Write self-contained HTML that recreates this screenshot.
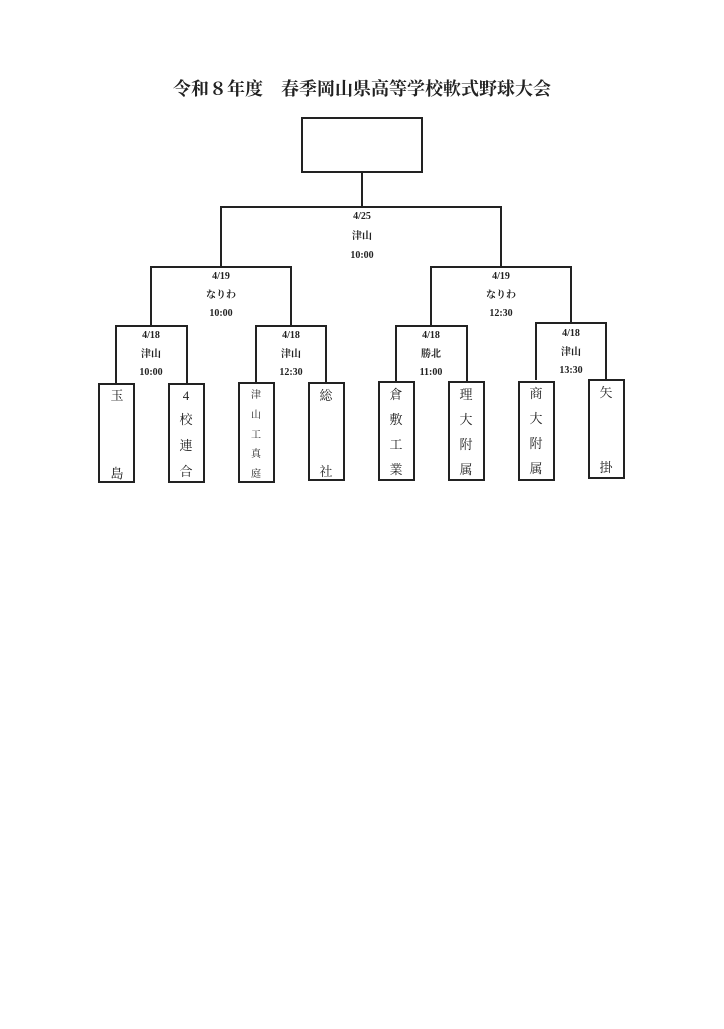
<!DOCTYPE html>
<html><head><meta charset="utf-8"><style>
html,body{margin:0;padding:0;background:#fff}
svg text{font-family:"Liberation Serif","Noto Serif CJK SC",serif;fill:#222}
</style></head><body>
<svg width="724" height="1024" viewBox="0 0 724 1024" xmlns="http://www.w3.org/2000/svg">
<text x="362" y="95" font-size="18" font-weight="bold" text-anchor="middle">令和８年度　春季岡山県高等学校軟式野球大会</text>
<g stroke="#222" stroke-width="2" fill="none">
<rect x="302" y="118" width="120" height="54"/>
<path d="M362 172V207M221 267V207H501V267"/>
<path d="M151 326V267H291V326M431 326V267H571V323"/>
<path d="M116 384V326H187V384M256 384V326H326V384"/>
<path d="M396 382V326H467V382M536 380V323H606V380"/>
<rect x="99" y="384" width="35" height="98"/>
<rect x="169" y="384" width="35" height="98"/>
<rect x="239" y="383" width="35" height="99"/>
<rect x="309" y="383" width="35" height="97"/>
<rect x="379" y="382" width="35" height="98"/>
<rect x="449" y="382" width="35" height="98"/>
<rect x="519" y="382" width="35" height="98"/>
<rect x="589" y="380" width="35" height="98"/>
</g>
<g font-size="10" font-weight="bold" text-anchor="middle">
<text x="362" y="219">4/25</text><text x="362" y="239">津山</text><text x="362" y="258">10:00</text>
<text x="221" y="279">4/19</text><text x="221" y="298">なりわ</text><text x="221" y="316">10:00</text>
<text x="501" y="279">4/19</text><text x="501" y="298">なりわ</text><text x="501" y="316">12:30</text>
<text x="151" y="338">4/18</text><text x="151" y="357">津山</text><text x="151" y="375">10:00</text>
<text x="291" y="338">4/18</text><text x="291" y="357">津山</text><text x="291" y="375">12:30</text>
<text x="431" y="338">4/18</text><text x="431" y="357">勝北</text><text x="431" y="375">11:00</text>
<text x="571" y="336">4/18</text><text x="571" y="355">津山</text><text x="571" y="373">13:30</text>
</g>
<g font-size="13" text-anchor="middle">
<text x="117" y="400">玉</text><text x="117" y="478">島</text>
<text x="186" y="400">4</text><text x="186" y="424">校</text><text x="186" y="450">連</text><text x="186" y="476">合</text>
<g font-size="10"><text x="256" y="398">津</text><text x="256" y="418">山</text><text x="256" y="438">工</text><text x="256" y="457">真</text><text x="256" y="477">庭</text></g>
<text x="326" y="400">総</text><text x="326" y="476">社</text>
<text x="396" y="399">倉</text><text x="396" y="424">敷</text><text x="396" y="449">工</text><text x="396" y="474">業</text>
<text x="466" y="399">理</text><text x="466" y="424">大</text><text x="466" y="449">附</text><text x="466" y="474">属</text>
<text x="536" y="398">商</text><text x="536" y="423">大</text><text x="536" y="448">附</text><text x="536" y="473">属</text>
<text x="606" y="397">矢</text><text x="606" y="472">掛</text>
</g>
</svg>
</body></html>
